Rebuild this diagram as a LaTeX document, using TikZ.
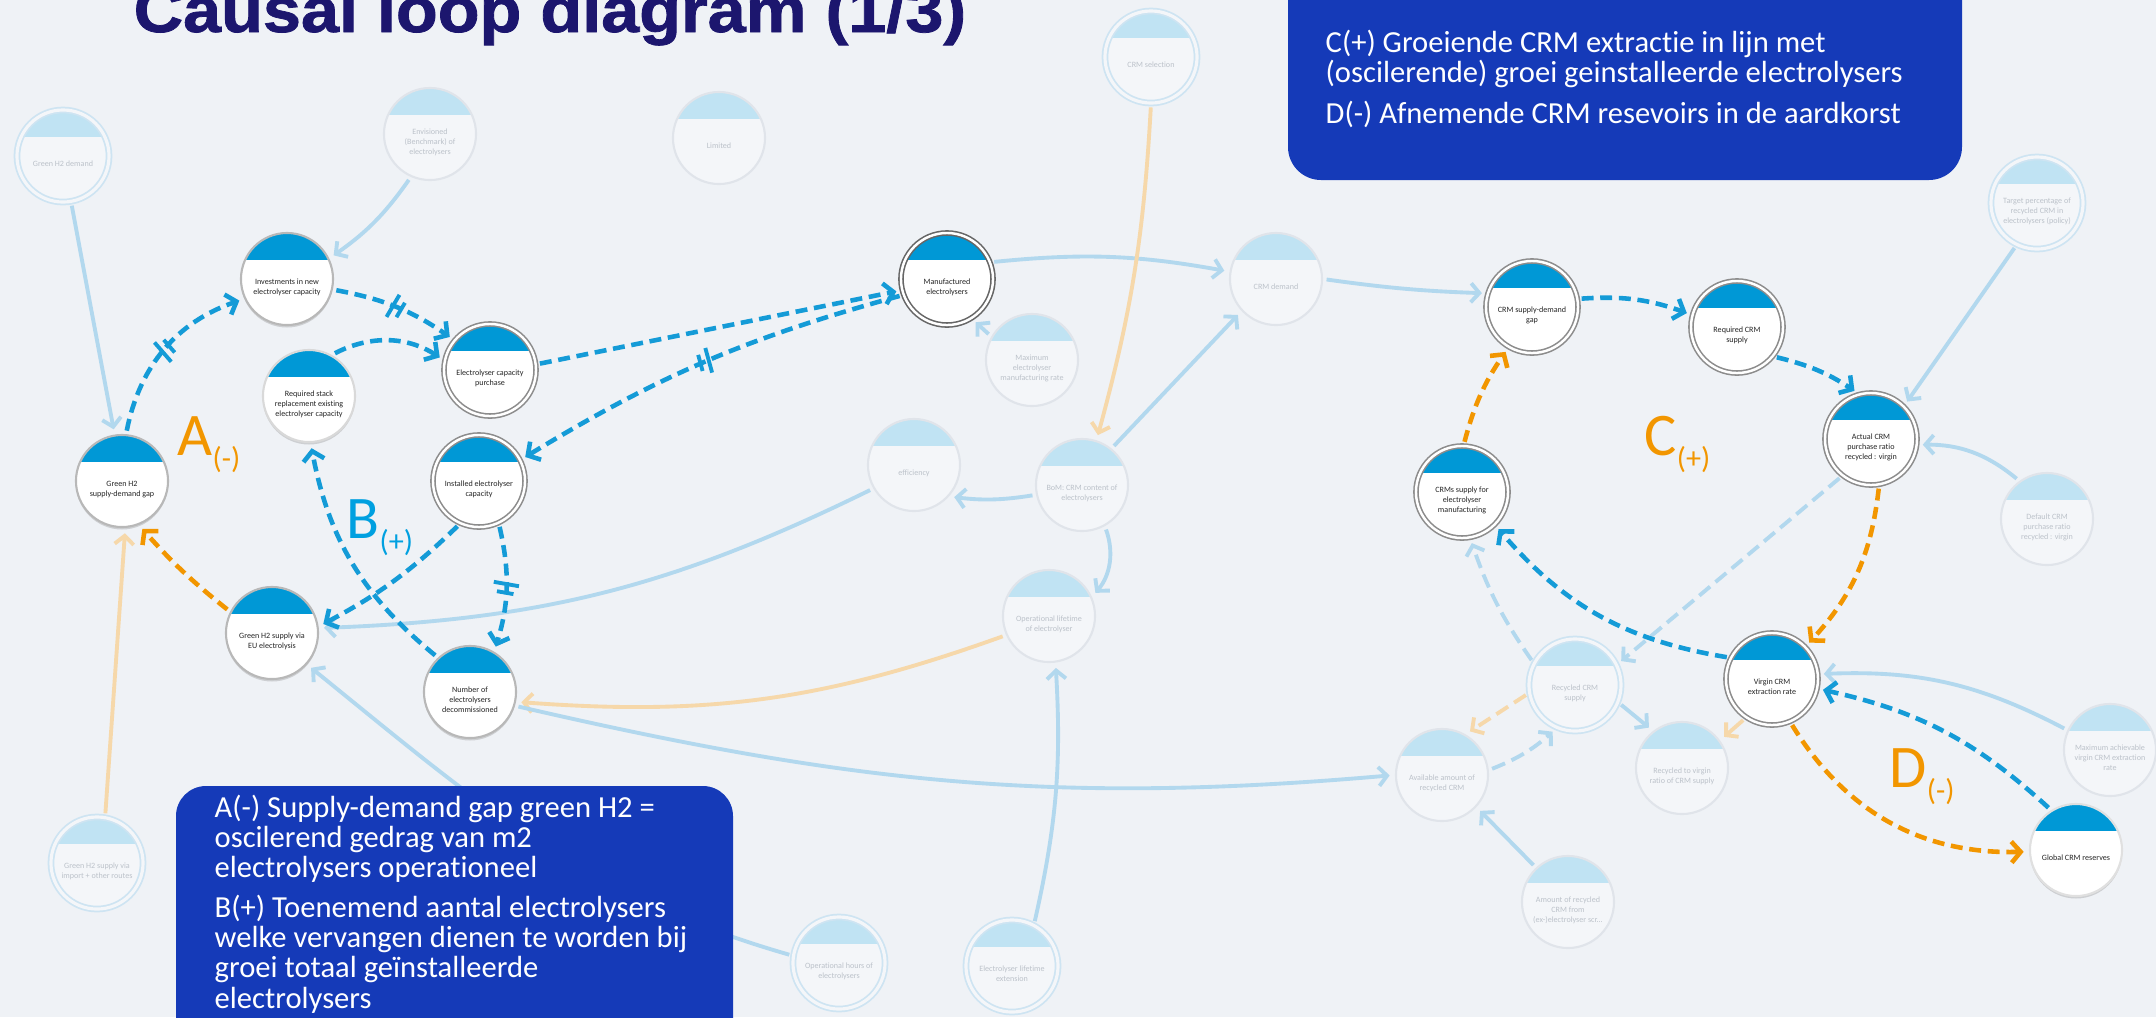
\documentclass[tikz,border=0pt]{standalone}
\usepackage{fontspec}
\usepackage{graphicx}
\usetikzlibrary{arrows.meta,decorations.markings,shadows}
\newfontfamily\nfont[Ligatures=NoCommon]{Carlito}
\newfontfamily\titlefont[BoldFeatures={FakeBold=1.2}]{Liberation Sans}
\definecolor{bgc}{RGB}{239,242,246}
\definecolor{capblue}{RGB}{0,152,214}
\definecolor{clblue}{RGB}{20,155,215}
\definecolor{clorange}{RGB}{242,150,0}
\definecolor{labblue}{RGB}{0,160,224}
\definecolor{feblue}{RGB}{178,216,238}
\definecolor{feorange}{RGB}{246,216,170}
\definecolor{fadefill}{RGB}{244,246,249}
\definecolor{fadecap}{RGB}{192,227,243}
\definecolor{fadeborder}{RGB}{224,228,234}
\definecolor{fadering}{RGB}{206,228,242}
\definecolor{fadetext}{RGB}{188,194,202}
\definecolor{boxblue}{RGB}{21,58,184}
\definecolor{titlenavy}{RGB}{28,22,110}
\newcommand\nt[1]{\raisebox{0pt}[\dimexpr\height+4.6pt\relax][\depth]{\begin{tabular}{@{}c@{}}#1\end{tabular}}}
\newcommand\loopsub[1]{\raisebox{-3.7pt}{\fontsize{8.6pt}{9pt}\selectfont #1}}
\pgfdeclarelayer{bglayer}
\pgfdeclarelayer{edgelayer}
\pgfdeclarelayer{toplayer}
\pgfsetlayers{bglayer,edgelayer,main,toplayer}
\begin{document}
\begin{tikzpicture}[x=0.01cm,y=0.01cm,
  nd/.style={circle, minimum size=0.92cm, inner sep=0pt, align=center, font=\nfont\fontsize{2.3pt}{2.85pt}\selectfont},
  mainnode/.style={nd, fill=white, draw=black!28, line width=0.6pt, text=black!85,
     drop shadow={shadow xshift=0pt, shadow yshift=-0.7pt, opacity=0.3},
     path picture={\fill[capblue] ([yshift=-0.27cm]path picture bounding box.north west) rectangle (path picture bounding box.north east);}},
  ring/.style={draw=black!45, line width=0.45pt, double=white, double distance=0.7pt},
  fadenode/.style={nd, fill=fadefill, draw=fadeborder, line width=0.6pt, text=fadetext,
     path picture={\fill[fadecap] ([yshift=-0.27cm]path picture bounding box.north west) rectangle (path picture bounding box.north east);}},
  fring/.style={draw=fadering, line width=0.5pt, double=fadefill, double distance=0.9pt},
  cl/.style={draw=clblue, line width=1.3pt, dash pattern=on 3.4pt off 1.9pt, shorten >=1.5pt, shorten <=1pt, -{Straight Barb[length=2.6pt,width=6pt]}},
  co/.style={cl, draw=clorange},
  delay/.style={postaction={decorate, decoration={markings, mark=at position 0.5 with {\draw[-, solid, draw=clblue, line width=1.1pt] (-1.6pt,-3.6pt) -- (-0.6pt,3.6pt) (0.9pt,-3.6pt) -- (1.9pt,3.6pt);}}}},
  fe/.style={draw=feblue, line width=1.1pt, shorten >=1.5pt, shorten <=1pt, -{Straight Barb[length=2.4pt,width=5.4pt]}},
  fo/.style={fe, draw=feorange},
  fd/.style={dash pattern=on 4pt off 2pt},
  labstyle/.style={anchor=base west, inner sep=0pt, font=\nfont\fontsize{17.2pt}{18pt}\selectfont},
  boxtext/.style={anchor=base west, inner sep=0pt, align=left, text=white, font=\nfont\fontsize{8.7pt}{8.54pt}\selectfont}
]
\useasboundingbox (0,0) rectangle (2156,-1017);
\begin{pgfonlayer}{bglayer}
\fill[bgc] (0,0) rectangle (2156,-1017);
\end{pgfonlayer}

% faded nodes
\node[fadenode,fring] (demand) at (63,-156) {\nt{Green H2 demand}};
\node[fadenode] (envis) at (430,-134) {\nt{Envisioned\\(Benchmark) of\\electrolysers}};
\node[fadenode] (limited) at (719,-138) {\nt{Limited}};
\node[fadenode,fring] (crmSel) at (1151,-57) {\nt{CRM selection}};
\node[fadenode] (crmDemand) at (1276,-279) {\nt{CRM demand}};
\node[fadenode] (maxManuf) at (1032,-360) {\nt{Maximum\\electrolyser\\manufacturing rate}};
\node[fadenode] (effic) at (914,-465) {\nt{efficiency}};
\node[fadenode] (bom) at (1082,-485) {\nt{BoM: CRM content of\\electrolysers}};
\node[fadenode] (oplife) at (1049,-616) {\nt{Operational lifetime\\of electrolyser}};
\node[fadenode,fring] (target) at (2037,-203) {\nt{Target percentage of\\recycled CRM in\\electrolysers (policy)}};
\node[fadenode] (defRatio) at (2047,-519) {\nt{Default CRM\\purchase ratio\\recycled : virgin}};
\node[fadenode,fring] (recycled) at (1575,-685) {\nt{Recycled CRM\\supply}};
\node[fadenode] (ratio) at (1682,-768) {\nt{Recycled to virgin\\ratio of CRM supply}};
\node[fadenode] (available) at (1442,-775) {\nt{Available amount of\\recycled CRM}};
\node[fadenode] (amountEx) at (1568,-902) {\nt{Amount of recycled\\CRM from\\(ex-)electrolyser scr...}};
\node[fadenode] (maxVirgin) at (2110,-750) {\nt{Maximum achievable\\virgin CRM extraction\\rate}};
\node[fadenode,fring] (importH2) at (97,-863) {\nt{Green H2 supply via\\import + other routes}};
\node[fadenode,fring] (ophours) at (839,-963) {\nt{Operational hours of\\electrolysers}};
\node[fadenode,fring] (lifeExt) at (1012,-966) {\nt{Electrolyser lifetime\\extension}};

% main nodes
\node[mainnode] (gap) at (122,-481) {\nt{Green H2\\supply-demand gap}};
\node[mainnode] (invest) at (287,-279) {\nt{Investments in new\\electrolyser capacity}};
\node[mainnode,ring] (purchase) at (490,-370) {\nt{Electrolyser capacity\\purchase}};
\node[mainnode,draw=black!15] (stack) at (309,-396) {\nt{Required stack\\replacement existing\\electrolyser capacity}};
\node[mainnode,ring] (installed) at (479,-481) {\nt{Installed electrolyser\\capacity}};
\node[mainnode] (euSupply) at (272,-633) {\nt{Green H2 supply via\\EU electrolysis}};
\node[mainnode] (decom) at (470,-692) {\nt{Number of\\electrolysers\\decommissioned}};
\node[mainnode,ring,draw=black!60] (manuf) at (947,-279) {\nt{Manufactured\\electrolysers}};
\node[mainnode,ring] (crmGap) at (1532,-307) {\nt{CRM supply-demand\\gap}};
\node[mainnode,ring] (reqCRM) at (1737,-327) {\nt{Required CRM\\supply}};
\node[mainnode,ring] (actual) at (1871,-439) {\nt{Actual CRM\\purchase ratio\\recycled : virgin}};
\node[mainnode,ring] (crmsSupply) at (1462,-492) {\nt{CRMs supply for\\electrolyser\\manufacturing}};
\node[mainnode,ring] (virgin) at (1772,-679) {\nt{Virgin CRM\\extraction rate}};
\node[mainnode,draw=black!12] (global) at (2076,-850) {\nt{Global CRM reserves}};

\begin{pgfonlayer}{edgelayer}
% faded connectors
\draw[fe] (demand.-80) -- (gap.99);
\draw[fe] (envis.246) to[bend left=10] (invest.26);
\draw[fe] (manuf.21) to[bend left=8] (crmDemand.171);
\draw[fe] (crmDemand.0) to[bend right=3] (crmGap.163);
\draw[fe] (maxManuf.150) -- (manuf.-58);
\draw[fe] (bom.51) -- (crmDemand.223);
\draw[fe] (bom.192) to[bend left=8] (effic.-42);
\draw[fe] (effic.210) to[bend left=12] (euSupply.6);
\draw[fo] (crmSel.-90) to[bend left=6] (bom.72);
\draw[fe] (bom.-61) to[bend left=30] (oplife.24);
\draw[fo] (oplife.204) to[bend left=12] (decom.-12);
\draw[fe] (decom.-17) to[out=-13,in=185] (available.180);
\draw[fe] (lifeExt.62) to[bend right=8] (oplife.-82);
\draw[fe] (ophours.171) to[out=164,in=-39] (euSupply.-42);
\draw[fo] (importH2.80) -- (gap.-86);
\draw[fe] (target.244) -- (actual.45);
\draw[fe] (defRatio.126) to[bend right=20] (actual.-7);
\draw[fe] (maxVirgin.155) to[bend right=15] (virgin.6);
\draw[fe,fd] (actual.232) -- (recycled.26);
\draw[fe,fd] (recycled.152) to[bend left=8] (crmsSupply.-80);
\draw[fo,fd] (recycled.190) -- (available.60);
\draw[fe,fd] (available.6) to[bend right=10] (recycled.247);
\draw[fe] (recycled.-22) -- (ratio.128);
\draw[fo] (virgin.236) -- (ratio.36);
\draw[fe] (amountEx.133) -- (available.-43);
% loops A and B
\draw[cl,delay] (gap.85) to[bend left=30] (invest.205);
\draw[cl,delay] (invest.-13) to[bend left=12] (purchase.140);
\draw[cl] (stack.61) to[bend left=30] (purchase.168);
\draw[cl] (purchase.7) -- (manuf.194);
\draw[cl,delay] (manuf.200) to[bend right=8] (installed.27);
\draw[cl] (installed.246) to[bend left=8] (euSupply.8);
\draw[cl,delay] (installed.295) to[bend left=15] (decom.59);
\draw[cl] (decom.133) to[bend left=20] (stack.272);
\draw[co] (euSupply.153) to[bend left=5] (gap.291);
% loops C and D
\draw[cl] (crmGap.10) to[bend left=12] (reqCRM.165);
\draw[cl] (reqCRM.-39) to[bend left=10] (actual.105);
\draw[co] (actual.280) to[bend left=18] (virgin.44);
\draw[cl] (virgin.153) to[bend left=20] (crmsSupply.-45);
\draw[co] (crmsSupply.88) to[bend left=10] (crmGap.240);
\draw[co] (virgin.293) to[bend right=30] (global.182);
\draw[cl] (global.122) to[bend right=15] (virgin.-12);
\end{pgfonlayer}

% loop labels
\node[labstyle, text=clorange] (labA) at (177,-455) {A\loopsub{(-)}};
\node[labstyle, text=labblue] (labB) at (346,-538) {B\loopsub{(+)}};
\node[labstyle, text=clorange] (labC) at (1644,-455) {C\loopsub{(+)}};
\node[labstyle, text=clorange] (labD) at (1889,-787) {D\loopsub{(-)}};

\begin{pgfonlayer}{toplayer}
\fill[boxblue, rounded corners=0.33cm] (1288,40) rectangle (1962,-180);
\fill[boxblue, rounded corners=0.3cm] (176,-786) rectangle (733,-1070);
\node[boxtext] (txtCD) at (1325,-123) {C(+) Groeiende CRM extractie in lijn met\\(oscilerende) groei geinstalleerde electrolysers\\[2.85pt]D(-) Afnemende CRM resevoirs in de aardkorst};
\node[boxtext] (txtAB) at (214,-1008) {A(-) Supply-demand gap green H2 =\\oscilerend gedrag van m2\\electrolysers operationeel\\[2.85pt]B(+) Toenemend aantal electrolysers\\welke vervangen dienen te worden bij\\groei totaal geïnstalleerde\\electrolysers};
\node[anchor=base west, inner sep=0pt, text=titlenavy] (title) at (133,-32) {\resizebox{8.32cm}{\height}{\titlefont\bfseries\fontsize{18pt}{20pt}\selectfont Causal loop diagram (1/3)}};
\end{pgfonlayer}
\end{tikzpicture}
\end{document}
